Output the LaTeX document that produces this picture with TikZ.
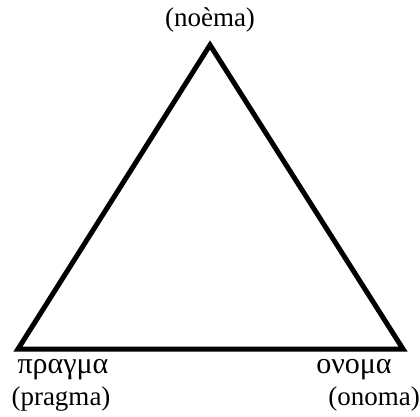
\documentclass[tikz,border=0pt]{standalone}
\usepackage{fontspec}
\setmainfont{Liberation Serif}
\begin{document}
\begin{tikzpicture}[x=1pt,y=-1pt,
  lbl/.style={inner sep=0pt,anchor=base,font=\fontsize{27}{30}\selectfont},
  glbl/.style={inner sep=0pt,anchor=base,font=\fontsize{30}{33}\selectfont},
  edge/.style={line width=5pt,line join=miter}]
\useasboundingbox (0,0) rectangle (420,416);
\coordinate (T) at (210,45);
\coordinate (L) at (18,349);
\coordinate (R) at (403,349);
\draw[edge] (T) -- (L) -- (R) -- cycle;
\node[lbl] (noema) at (210,26) {(noèma)};
\node[glbl] (pragmaG) at (63,373) {πραγμα};
\node[lbl] (pragma) at (61,405) {(pragma)};
\node[glbl] (onomaG) at (354,373) {ονομα};
\node[lbl] (onoma) at (374,405) {(onoma)};
\end{tikzpicture}
\end{document}
